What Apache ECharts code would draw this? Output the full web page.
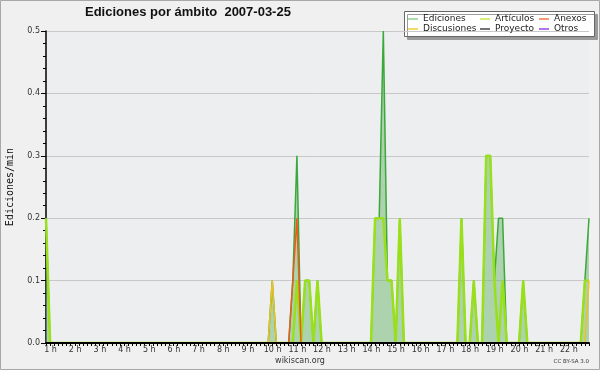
<!DOCTYPE html>
<html>
<head>
<meta charset="utf-8">
<script src="https://cdn.jsdelivr.net/npm/echarts@6/dist/echarts.min.js"></script>
<style>
html, body { margin: 0; padding: 0; background: #f0f0f0; }
#chart { width: 600px; height: 370px; }
</style>
</head>
<body>
<div id="chart"></div>
<script>
// one value every 10 minutes, from 1:00 to 23:00 (edits per minute)
var ediciones = [
    0.2, 0, 0, 0, 0, 0,        // 1 h
    0, 0, 0, 0, 0, 0,          // 2 h
    0, 0, 0, 0, 0, 0,          // 3 h
    0, 0, 0, 0, 0, 0,          // 4 h
    0, 0, 0, 0, 0, 0,          // 5 h
    0, 0, 0, 0, 0, 0,          // 6 h
    0, 0, 0, 0, 0, 0,          // 7 h
    0, 0, 0, 0, 0, 0,          // 8 h
    0, 0, 0, 0, 0, 0,          // 9 h
    0, 0.1, 0, 0, 0, 0,        // 10 h
    0.1, 0.3, 0, 0.1, 0.1, 0,  // 11 h
    0.1, 0, 0, 0, 0, 0,        // 12 h
    0, 0, 0, 0, 0, 0,          // 13 h
    0, 0, 0.2, 0.2, 0.5, 0.1,  // 14 h
    0.1, 0, 0.2, 0, 0, 0,      // 15 h
    0, 0, 0, 0, 0, 0,          // 16 h
    0, 0, 0, 0, 0, 0.2,        // 17 h
    0, 0, 0.1, 0, 0, 0.3,      // 18 h
    0.3, 0.1, 0.2, 0.2, 0, 0,  // 19 h
    0, 0, 0.1, 0, 0, 0,        // 20 h
    0, 0, 0, 0, 0, 0,          // 21 h
    0, 0, 0, 0, 0, 0.1,        // 22 h
    0.2                        // 23 h
];
var articulos = [
    0.2, 0, 0, 0, 0, 0,
    0, 0, 0, 0, 0, 0,
    0, 0, 0, 0, 0, 0,
    0, 0, 0, 0, 0, 0,
    0, 0, 0, 0, 0, 0,
    0, 0, 0, 0, 0, 0,
    0, 0, 0, 0, 0, 0,
    0, 0, 0, 0, 0, 0,
    0, 0, 0, 0, 0, 0,
    0, 0, 0, 0, 0, 0,
    0, 0.1, 0, 0.1, 0.1, 0,
    0.1, 0, 0, 0, 0, 0,
    0, 0, 0, 0, 0, 0,
    0, 0, 0.2, 0.2, 0.2, 0.1,
    0.1, 0, 0.2, 0, 0, 0,
    0, 0, 0, 0, 0, 0,
    0, 0, 0, 0, 0, 0.2,
    0, 0, 0.1, 0, 0, 0.3,
    0.3, 0.1, 0, 0.1, 0, 0,
    0, 0, 0.1, 0, 0, 0,
    0, 0, 0, 0, 0, 0,
    0, 0, 0, 0, 0, 0.1,
    0.1
];
var discusiones = [
    0, 0, 0, 0, 0, 0,
    0, 0, 0, 0, 0, 0,
    0, 0, 0, 0, 0, 0,
    0, 0, 0, 0, 0, 0,
    0, 0, 0, 0, 0, 0,
    0, 0, 0, 0, 0, 0,
    0, 0, 0, 0, 0, 0,
    0, 0, 0, 0, 0, 0,
    0, 0, 0, 0, 0, 0,
    0, 0.1, 0, 0, 0, 0,
    0, 0, 0, 0, 0, 0,
    0, 0, 0, 0, 0, 0,
    0, 0, 0, 0, 0, 0,
    0, 0, 0, 0, 0, 0,
    0, 0, 0, 0, 0, 0,
    0, 0, 0, 0, 0, 0,
    0, 0, 0, 0, 0, 0,
    0, 0, 0, 0, 0, 0,
    0, 0, 0, 0, 0, 0,
    0, 0, 0, 0, 0, 0,
    0, 0, 0, 0, 0, 0,
    0, 0, 0, 0, 0, 0,
    0.1
];
var anexos = [
    0, 0, 0, 0, 0, 0,
    0, 0, 0, 0, 0, 0,
    0, 0, 0, 0, 0, 0,
    0, 0, 0, 0, 0, 0,
    0, 0, 0, 0, 0, 0,
    0, 0, 0, 0, 0, 0,
    0, 0, 0, 0, 0, 0,
    0, 0, 0, 0, 0, 0,
    0, 0, 0, 0, 0, 0,
    0, 0, 0, 0, 0, 0,
    0.1, 0.2, 0, 0, 0, 0,
    0, 0, 0, 0, 0, 0,
    0, 0, 0, 0, 0, 0,
    0, 0, 0, 0, 0, 0,
    0, 0, 0, 0, 0, 0,
    0, 0, 0, 0, 0, 0,
    0, 0, 0, 0, 0, 0,
    0, 0, 0, 0, 0, 0,
    0, 0, 0, 0, 0, 0,
    0, 0, 0, 0, 0, 0,
    0, 0, 0, 0, 0, 0,
    0, 0, 0, 0, 0, 0,
    0
];
// no edits in these two
var proyecto = [];
var otros = [];

var hourLabels = ['1 h', '2 h', '3 h', '4 h', '5 h', '6 h', '7 h', '8 h', '9 h', '10 h', '11 h',
    '12 h', '13 h', '14 h', '15 h', '16 h', '17 h', '18 h', '19 h', '20 h', '21 h', '22 h'];
var yTicks = ['0.0', '0.1', '0.2', '0.3', '0.4', '0.5'];

// minutes since midnight for each sample
function pairs(values) {
    return values.map(function (v, i) { return [60 + 10 * i, v]; });
}

function lineSeries(name, values, color, width) {
    return {
        name: name,
        type: 'line',
        data: pairs(values),
        symbol: 'none',
        lineStyle: { color: color, width: width },
        itemStyle: { color: color }
    };
}

function legendAt(left, names, colors) {
    return {
        left: left,
        top: 14,
        orient: 'vertical',
        icon: 'rect',
        itemWidth: 10,
        itemHeight: 1.5,
        itemGap: 0,
        padding: 0,
        selectedMode: false,
        textStyle: { fontFamily: 'DejaVu Sans', fontSize: 9, color: '#222', lineHeight: 10 },
        data: names.map(function (n, i) {
            return { name: n, itemStyle: { color: colors[i] } };
        })
    };
}

var myChart = echarts.init(document.getElementById('chart'));

var edSeries = lineSeries('Ediciones', ediciones, '#3aa83a', 1.5);
edSeries.areaStyle = { color: 'rgba(115,185,115,0.75)' };

myChart.setOption({
    animation: false,
    backgroundColor: '#f0f0f0',
    title: {
        text: 'Ediciones por ámbito  2007-03-25',
        left: 85,
        top: 6,
        padding: 0,
        textStyle: { fontFamily: 'Liberation Sans', fontWeight: 'bold', fontSize: 13, color: '#111' }
    },
    legend: [
        legendAt(408, ['Ediciones', 'Discusiones'], ['#8fd08f', '#f5cc33']),
        legendAt(480, ['Artículos', 'Proyecto'], ['#c8ea4a', '#444444']),
        legendAt(539, ['Anexos', 'Otros'], ['#ef7a45', '#9b45e8'])
    ],
    graphic: [
        {
            type: 'rect', silent: true, z: -10,
            shape: { x: 0.5, y: 0.5, width: 599, height: 369 },
            style: { fill: 'none', stroke: '#a8a8a8', lineWidth: 1 }
        },
        {
            type: 'rect', silent: true, z: 0,
            shape: { x: 404.5, y: 11.5, width: 190, height: 25 },
            style: { fill: '#fff', stroke: '#666', lineWidth: 1,
                shadowColor: '#9a9a9a', shadowOffsetX: 3, shadowOffsetY: 3, shadowBlur: 0 }
        },
        {
            type: 'text', silent: true, x: 300, y: 361,
            style: { text: 'wikiscan.org', font: '8px "DejaVu Sans"', fill: '#333',
                textAlign: 'center', textVerticalAlign: 'middle' }
        },
        {
            type: 'text', silent: true, x: 589, y: 362,
            style: { text: 'CC BY-SA 3.0', font: '5.5px "DejaVu Sans"', fill: '#333',
                textAlign: 'right', textVerticalAlign: 'middle' }
        }
    ],
    grid: {
        left: 46, right: 11, top: 31, bottom: 27,
        outerBoundsMode: 'none',
        show: true, backgroundColor: '#edeef0', borderWidth: 0
    },
    xAxis: {
        type: 'value',
        min: 60,
        max: 1380,
        interval: 60,
        z: 10,
        axisLine: { lineStyle: { color: '#000', width: 2 } },
        axisTick: { length: 3, lineStyle: { color: '#000' } },
        minorTick: { show: true, splitNumber: 6, length: 3, lineStyle: { color: '#000' } },
        splitLine: { show: false },
        axisLabel: {
            margin: 3,
            padding: [0, 0, 0, 9],
            fontFamily: 'DejaVu Sans',
            fontSize: 8,
            color: '#333',
            formatter: function (v) {
                var i = (v - 60) / 60;
                return i < hourLabels.length ? hourLabels[i] : '';
            }
        }
    },
    yAxis: {
        type: 'value',
        min: 0,
        max: 0.5,
        interval: 0.1,
        name: 'Ediciones/min',
        nameLocation: 'middle',
        nameGap: 31,
        nameTextStyle: { fontFamily: 'DejaVu Sans Mono', fontSize: 10, color: '#111' },
        axisLine: { show: true, lineStyle: { color: '#000', width: 1.5 } },
        axisTick: { show: true, length: 5, lineStyle: { color: '#000' } },
        minorTick: { show: true, splitNumber: 5, length: 3, lineStyle: { color: '#000' } },
        splitLine: { lineStyle: { color: '#c8c8c8' } },
        axisLabel: {
            margin: 6,
            fontFamily: 'DejaVu Sans',
            fontSize: 8,
            color: '#333',
            formatter: function (v) { return yTicks[Math.round(v * 10)]; }
        }
    },
    series: [
        edSeries,
        lineSeries('Artículos', articulos, '#99e01a', 2.5),
        lineSeries('Discusiones', discusiones, '#f0c020', 1.5),
        lineSeries('Anexos', anexos, '#f05a1a', 1.5),
        lineSeries('Proyecto', proyecto, '#444444', 1.5),
        lineSeries('Otros', otros, '#9b45e8', 1.5)
    ]
});
</script>
</body>
</html>
